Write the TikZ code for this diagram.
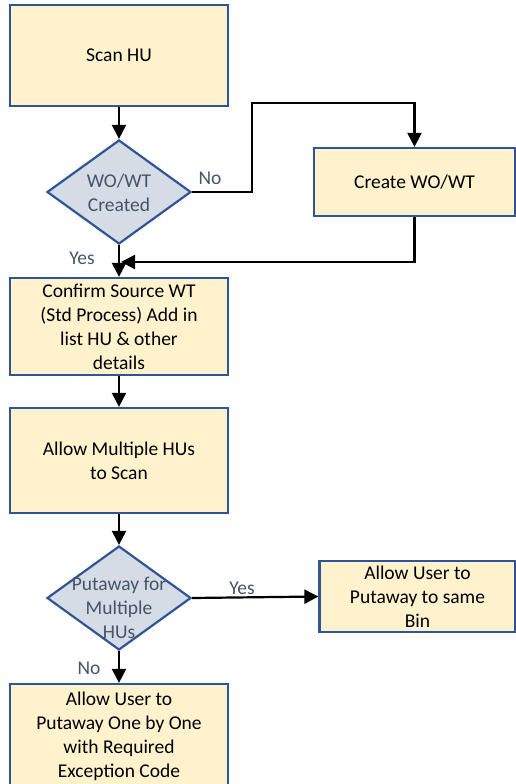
\documentclass[tikz,border=0pt]{standalone}
\usepackage{fontspec}
\setmainfont{Carlito}
\usetikzlibrary{shapes.geometric,arrows.meta}
\definecolor{boxfill}{HTML}{FFF2CC}
\definecolor{boxline}{HTML}{2F5597}
\definecolor{dfill}{HTML}{D6DCE5}
\definecolor{dtext}{HTML}{44546A}
\begin{document}
\begin{tikzpicture}[x=1pt,y=-1pt,
  every node/.style={font=\fontsize{19.5}{24}\selectfont},
  proc/.style={draw=boxline,fill=boxfill,line width=2.2pt,inner sep=0pt,align=center},
  decision/.style={diamond,draw=boxline,fill=dfill,line width=2.2pt,inner sep=0pt,minimum width=144pt,minimum height=104pt},
  dlabel/.style={text=dtext,align=center,inner sep=0pt},
  arr/.style={line width=2.2pt,-{Triangle[length=14pt,width=14pt]}},
  lbl/.style={text=dtext,inner sep=0pt}]
\useasboundingbox (0,0) rectangle (516,784);
\clip (0,0) rectangle (516,784);
\def\bw{218pt}
\node[proc,minimum width=\bw,minimum height=101pt] (scan) at (119,55.5) {Scan HU};
\node[decision] (created) at (119,192) {};
\node[dlabel] (createdt) at (119,193) {WO/WT\\Created};
\node[proc,minimum width=201pt,minimum height=68pt] (create) at (414.5,182) {Create WO/WT};
\node[proc,minimum width=\bw,minimum height=97pt] (confirm) at (119,326.5) {Confirm Source WT\\(Std Process) Add in\\list HU \& other\\details};
\node[proc,minimum width=\bw,minimum height=105pt] (multi) at (119,460.5) {Allow Multiple HUs\\to Scan};
\node[decision] (putaway) at (119,598) {};
\node[dlabel] (putawayt) at (119,608) {Putaway for\\Multiple\\HUs};
\node[proc,minimum width=196pt,minimum height=71pt] (same) at (417.5,596.5) {Allow User to\\Putaway to same\\Bin};
\node[proc,minimum width=\bw,minimum height=104pt] (onebyone) at (119,736) {Allow User to\\Putaway One by One\\with Required\\Exception Code};
\coordinate (noup) at (252,103);
\coordinate (join) at (121,262);
\draw[arr] (scan) -- (created);
\draw[arr] (created.east) -| (noup) -| (create.north);
\draw[arr] (create.south) |- (join);
\draw[arr] (created.south) -- (confirm.north);
\draw[arr] (confirm) -- (multi);
\draw[arr] (multi) -- (putaway);
\draw[arr] (putaway.east) -- (same.west);
\draw[arr] (putaway.south) -- (onebyone.north);
\node[lbl] (no1) at (210,178) {No};
\node[lbl] (yes1) at (82,258) {Yes};
\node[lbl] (yes2) at (242,588) {Yes};
\node[lbl] (no2) at (89,668) {No};
\end{tikzpicture}
\end{document}
